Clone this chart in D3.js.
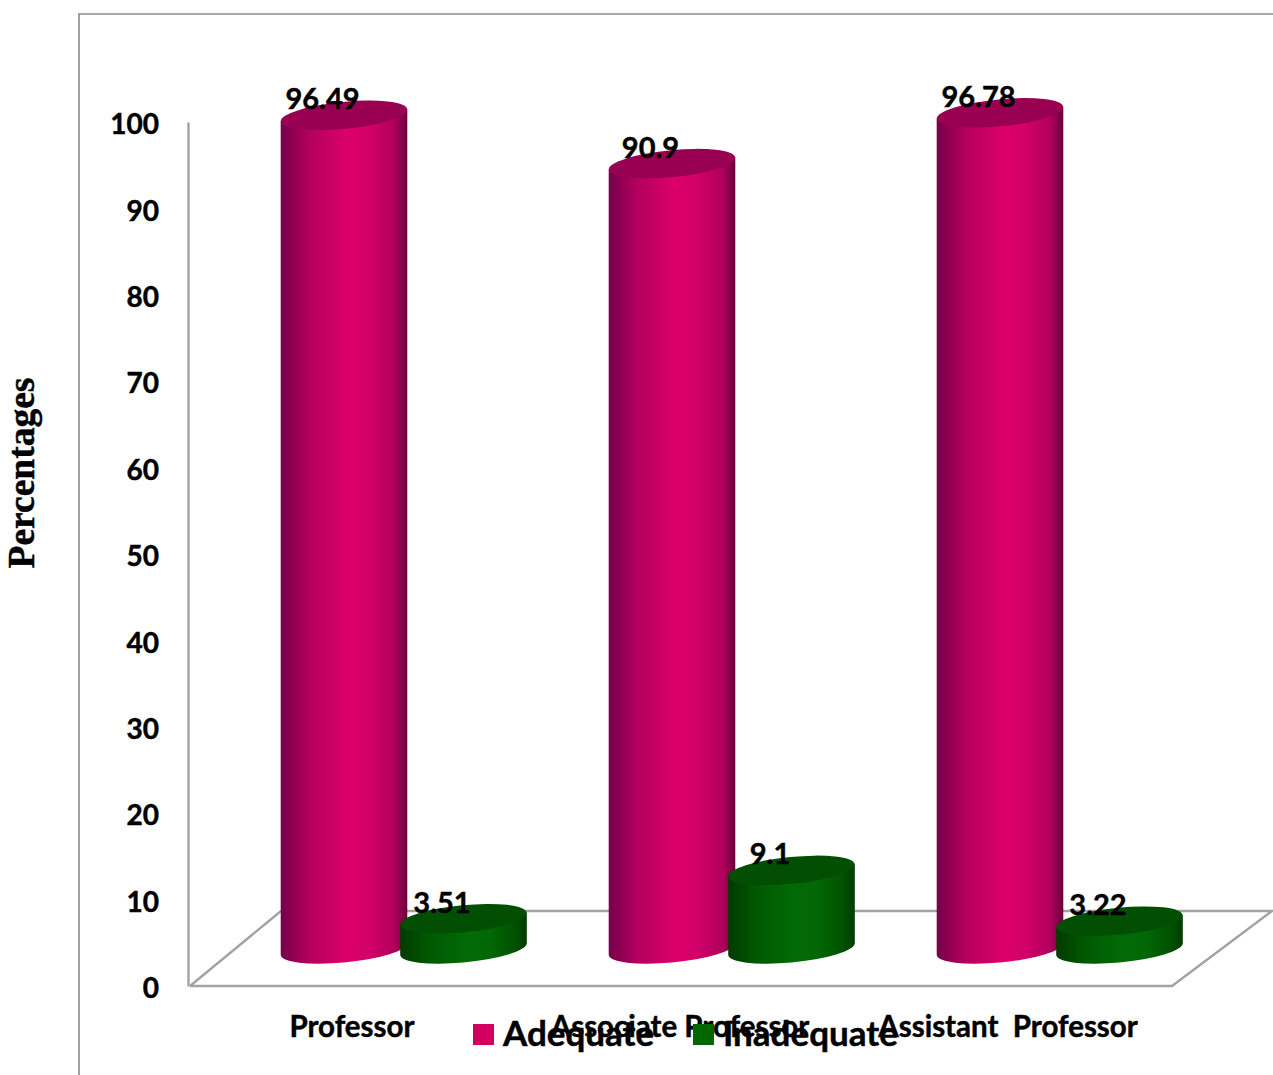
<!DOCTYPE html>
<html>
<head>
<meta charset="utf-8">
<script src="https://cdn.jsdelivr.net/npm/d3@7"></script>
<style>
  html, body { margin: 0; background: #fff; }
  svg { display: block; }
  text { font-family: Lato, "Open Sans", sans-serif; font-weight: 700; fill: #000; stroke: #000; stroke-width: 0.45px; }
</style>
</head>
<body>
<div id="chart"></div>
<script>
const categories = ["Professor", "Associate Professor", "Assistant  Professor"];
const seriesNames = ["Adequate", "Inadequate"];
const adequate = [96.49, 90.9, 96.78];
const inadequate = [3.51, 9.1, 3.22];
const yTicks = [0, 10, 20, 30, 40, 50, 60, 70, 80, 90, 100];
const axisTitle = "Percentages";

const width = 1273, height = 1075;
const svg = d3.select("#chart").append("svg")
  .attr("width", width).attr("height", height);

// Scales: the value axis runs up the front wall, bars stand further back on the floor.
const y = d3.scaleLinear().domain([0, 100]).range([986, 122]);
const x0 = d3.scalePoint().domain(categories).range([344, 1000]);
const x1 = d3.scalePoint().domain(seriesNames).range([0, 119.5]);
const floorDepth = 37;

const palette = {
  Adequate: { stops: ["#75004a", "#b2005f", "#dc006c", "#d20068", "#b0005c", "#6a003c"], top: "#9a0052", key: "#d2005f" },
  Inadequate: { stops: ["#013a01", "#015801", "#026a06", "#026805", "#015201", "#013a01"], top: "#024e02", key: "#026602" }
};
const stopAt = [0, 0.22, 0.52, 0.7, 0.9, 1];

const defs = svg.append("defs");
seriesNames.forEach(name => {
  const g = defs.append("linearGradient").attr("id", "grad-" + name)
    .attr("x1", 0).attr("x2", 1).attr("y1", 0).attr("y2", 0);
  palette[name].stops.forEach((c, i) =>
    g.append("stop").attr("offset", stopAt[i]).attr("stop-color", c));
});

// Outer frame on the top and left
svg.append("path")
  .attr("d", d3.line()([[79, 1075], [79, 14], [1273, 14]]))
  .attr("fill", "none").attr("stroke", "#8a8a8a").attr("stroke-width", 1.6);

// Floor of the 3D plot
const floor = [[190, 986], [1172, 986], [1272, 911], [281, 911], [190, 986]];
svg.append("path")
  .attr("d", d3.line()(floor))
  .attr("fill", "none").attr("stroke", "#a3a3a3").attr("stroke-width", 2.4);

// Value axis
const yAxis = d3.axisLeft(y).tickValues(yTicks).tickSize(0).tickPadding(29);
const axisG = svg.append("g").attr("transform", "translate(188,0)").call(yAxis);
axisG.select(".domain").attr("stroke", "#a3a3a3").attr("stroke-width", 2.4);
axisG.selectAll("text")
  .attr("font-size", 28)
  .attr("dy", "0.42em")
  .style("font-family", "Lato, sans-serif")
  .style("font-weight", 700);

// Cylinder geometry: a slightly tilted elliptical cap swept vertically
const rx = 63.5, ry = 13.5, tilt = -5.5;
const tx = 63.3, ty = 5.8;
function bodyPath(cx, top, base) {
  return `M${cx - tx},${top + ty} L${cx - tx},${base + ty} ` +
    `A${rx},${ry} ${tilt} 0 0 ${cx + tx},${base - ty} ` +
    `L${cx + tx},${top - ty} Z`;
}

const rows = categories.flatMap((c, i) => [
  { category: c, series: "Adequate", value: adequate[i] },
  { category: c, series: "Inadequate", value: inadequate[i] }
]);

const bars = svg.append("g").selectAll("g").data(rows).join("g");
bars.each(function (d) {
  const g = d3.select(this);
  const cx = x0(d.category) + x1(d.series);
  const top = y(d.value) - floorDepth;
  const base = y(0) - floorDepth;
  g.append("path").attr("d", bodyPath(cx, top, base))
    .attr("fill", `url(#grad-${d.series})`);
  g.append("ellipse")
    .attr("rx", rx).attr("ry", ry)
    .attr("transform", `translate(${cx},${top}) rotate(${tilt})`)
    .attr("fill", palette[d.series].top);
});

// Value labels sit over the caps, shifted left of the bar centre
svg.append("g").selectAll("text").data(rows).join("text")
  .attr("x", d => x0(d.category) + x1(d.series) - 21.5)
  .attr("y", d => y(d.value) - floorDepth - 6)
  .attr("text-anchor", "middle")
  .attr("font-size", 29)
  .text(d => d.value);

// Category labels
svg.append("g").selectAll("text").data(categories).join("text")
  .attr("x", d => x0(d) + 8)
  .attr("y", 1037)
  .attr("text-anchor", "middle")
  .attr("font-size", 29.5)
  .attr("xml:space", "preserve")
  .style("white-space", "pre")
  .text(d => d);

// Axis title
svg.append("text")
  .attr("transform", "translate(34,473) rotate(-90)")
  .attr("text-anchor", "middle")
  .attr("font-size", 37.5)
  .style("font-family", '"Liberation Serif", serif')
  .text(axisTitle);

// Legend, drawn over the category labels
const legendX = d3.scaleOrdinal().domain(seriesNames).range([473, 693]);
const legend = svg.append("g").selectAll("g").data(seriesNames).join("g")
  .attr("transform", d => `translate(${legendX(d)},1024)`);
legend.append("rect").attr("width", 21).attr("height", 21)
  .attr("fill", d => palette[d].key);
legend.append("text").attr("x", 30).attr("y", 22)
  .attr("font-size", 35).text(d => d);
</script>
</body>
</html>
